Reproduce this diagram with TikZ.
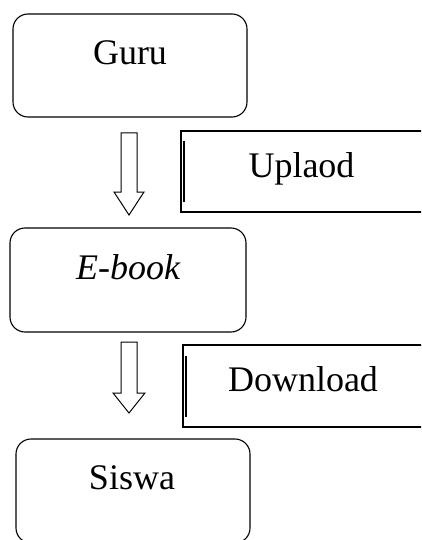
\documentclass[tikz,border=0pt]{standalone}
\usepackage{fontspec}
\setmainfont{Liberation Serif}
\begin{document}
\begin{tikzpicture}[x=1pt,y=-1pt,
  box/.style={draw,line width=1.1pt,rounded corners=15pt,inner sep=0pt},
  lbl/.style={anchor=base,inner sep=0pt,font=\fontsize{36}{40}\selectfont},
  tagbox/.style={line width=1.1pt},
  tagbar/.style={line width=2.4pt},
  blockarrow/.style={draw,line width=1pt,fill=white,line join=miter}]
\useasboundingbox (0,0) rectangle (421,540);
\clip (0,0) rectangle (421,540);
% boxes
\node[box,minimum width=234pt,minimum height=103pt] (guru) at (130,65.5) {};
\node[box,minimum width=236pt,minimum height=104pt] (ebook) at (128,280) {};
\node[box,minimum width=234pt,minimum height=104pt] (siswa) at (133,491) {};
\node[lbl] (guruT) at (130,65) {Guru};
\node[lbl] (ebookT) at (128,279) {\itshape E-book};
\node[lbl] (siswaT) at (132,489) {Siswa};
% block arrows
\coordinate (a1) at (129,133);
\coordinate (a1t) at (129,215);
\draw[blockarrow] ([xshift=-8pt]a1) -- ([xshift=8pt]a1) -- (137,192) -- (144,192) -- (a1t) -- (114,192) -- (121,192) -- cycle;
\coordinate (a2) at (129,342);
\coordinate (a2t) at (129,413);
\draw[blockarrow] ([xshift=-8pt]a2) -- ([xshift=8pt]a2) -- (137,393) -- (145,393) -- (a2t) -- (113,393) -- (121,393) -- cycle;
% tag boxes
\draw[tagbox] (430,131) -- (181,131) -- (181,212) -- (430,212);
\draw[tagbar] (184,141) -- (184,202);
\node[lbl] (upT) at (301.5,177) {Uplaod};
\draw[tagbox] (430,345) -- (183,345) -- (183,427) -- (430,427);
\draw[tagbar] (186,356) -- (186,417);
\node[lbl] (downT) at (303,391) {Download};
\end{tikzpicture}
\end{document}
